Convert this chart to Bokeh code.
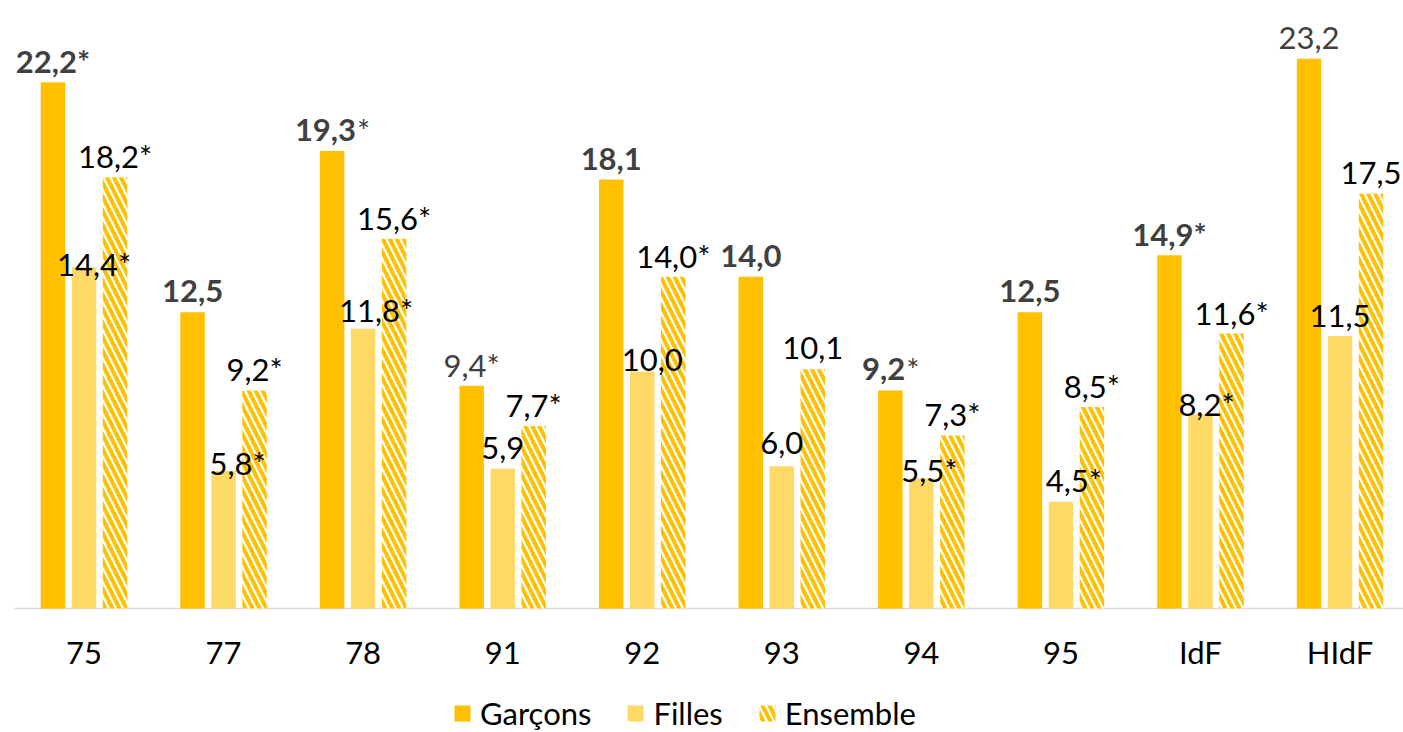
from bokeh.plotting import figure
from bokeh.models import Range1d, FixedTicker, ColumnDataSource, Legend, LegendItem
from bokeh.core.properties import value
from bokeh.embed import file_html
from bokeh.resources import INLINE

# ---------------- data ----------------
categories = ["75", "77", "78", "91", "92", "93", "94", "95", "IdF", "HIdF"]
garcons = [22.2, 12.5, 19.3, 9.4, 18.1, 14.0, 9.2, 12.5, 14.9, 23.2]
filles = [14.4, 5.8, 11.8, 5.9, 10.0, 6.0, 5.5, 4.5, 8.2, 11.5]
ensemble = [18.2, 9.2, 15.6, 7.7, 14.0, 10.1, 7.3, 8.5, 11.6, 17.5]
garcons_star = [True, False, True, True, False, False, True, False, True, False]
filles_star = [True, True, True, False, False, False, True, True, True, False]
ensemble_star = [True, True, True, True, True, False, True, True, True, False]
series_names = ["Garçons", "Filles", "Ensemble"]

# ---------------- styles ----------------
garcons_label_style = ["bold", "bold", "mixed", "normal", "bold", "bold", "mixed", "bold", "bold", "normal"]
filles_label_dx = [10, 14, 13, 0, 10, 0, 8, 13, 6, 0]
filles_label_gap = [3, 8, 19, 21, 12, 23, 8, 22, 10, 20]
LABEL_GAP = 21
FONT = "Lato"
FS = "31px"
C_G = "#FFC000"
C_F = "#FFD966"
GREY = "#404040"
PX_PER_CAT = 139.56
OFF = 31 / PX_PER_CAT
BAR_W = 24.5 / PX_PER_CAT
PX_PER_UNIT = 23.7
W, H = 1403, 732
FRAME_LEFT, FRAME_TOP, BASELINE = 0, 10, 608
FIRST_CENTER = 83.5


def fmt(v):
    return f"{v:.1f}".replace(".", ",")


def est_width(s):
    w = 0
    for ch in s:
        if ch.isdigit():
            w += 18
        elif ch == ",":
            w += 7.4
        else:
            w += 13.5
    return w


x_start = (FRAME_LEFT - FIRST_CENTER) / PX_PER_CAT
x_end = (W - FIRST_CENTER) / PX_PER_CAT
y_start = -(H - BASELINE) / PX_PER_UNIT
y_end = (BASELINE - FRAME_TOP) / PX_PER_UNIT
axis_start = (14 - FIRST_CENTER) / PX_PER_CAT

p = figure(width=W, height=H, output_backend="svg", toolbar_location=None,
           x_range=Range1d(x_start, x_end), y_range=Range1d(y_start, y_end),
           y_axis_location=None,
           min_border_left=FRAME_LEFT, min_border_right=0, min_border_top=FRAME_TOP, min_border_bottom=0)
p.background_fill_color = None
p.border_fill_color = None
p.outline_line_color = None
p.xgrid.visible = False
p.ygrid.visible = False

xs = list(range(len(categories)))
src = ColumnDataSource(dict(
    xg=[x - OFF for x in xs], xf=xs, xe=[x + OFF for x in xs],
    g=garcons, f=filles, e=ensemble))

# baseline of the category axis (y = 0), drawn as a thin filled band
p.hbar(y=[0], left=[axis_start], right=[x_end], height=1.6 / PX_PER_UNIT,
       fill_color="#D9D9D9", line_color=None)

rg = p.vbar(x="xg", top="g", bottom=0, width=BAR_W, source=src, fill_color=C_G, line_color=None)
rf = p.vbar(x="xf", top="f", bottom=0, width=BAR_W, source=src, fill_color=C_F, line_color=None)
re = p.vbar(x="xe", top="e", bottom=0, width=BAR_W, source=src, fill_color="white", line_color=None,
            hatch_pattern="left_diagonal_line", hatch_color=C_G, hatch_scale=14, hatch_weight=4)

# ---------------- labels ----------------
L = dict(x=[], y=[], text=[], style=[], align=[], dx=[], dy=[], color=[])


def add(x, y, t, st, al, dx, dy, c):
    L["x"].append(x); L["y"].append(y); L["text"].append(t); L["style"].append(st)
    L["align"].append(al); L["dx"].append(dx); L["dy"].append(dy); L["color"].append(c)


STAR_W = 13.5
for i, (v, star, st) in enumerate(zip(garcons, garcons_star, garcons_label_style)):
    x = i - OFF
    if st == "mixed":
        num = fmt(v)
        total = est_width(num) + STAR_W
        split = total / 2 - STAR_W
        add(x, v, num, "bold", "right", split, -LABEL_GAP, GREY)
        add(x, v, "*", "normal", "left", split + 1, -LABEL_GAP, GREY)
    else:
        add(x, v, fmt(v) + ("*" if star else ""), st, "center", 0, -LABEL_GAP, GREY)

for i, (v, star) in enumerate(zip(filles, filles_star)):
    add(i, v, fmt(v) + ("*" if star else ""), "normal", "center",
        filles_label_dx[i], -filles_label_gap[i], "black")

for i, (v, star) in enumerate(zip(ensemble, ensemble_star)):
    add(i + OFF, v, fmt(v) + ("*" if star else ""), "normal", "center", 0, -LABEL_GAP, "black")

lsrc = ColumnDataSource(L)
p.text(x="x", y="y", text="text", source=lsrc, text_font=value(FONT), text_font_size=FS,
       text_font_style="style", text_align="align", text_baseline="alphabetic",
       x_offset="dx", y_offset="dy", text_color="color")

# ---------------- axis (crossing at y = 0) ----------------
ax = p.xaxis[0]
ax.fixed_location = 0
ax.ticker = FixedTicker(ticks=xs)
ax.major_label_overrides = {i: c for i, c in enumerate(categories)}
ax.axis_line_color = None
ax.major_tick_line_color = None
ax.minor_tick_line_color = None
ax.major_tick_out = 0
ax.major_tick_in = 0
ax.major_label_standoff = 24
ax.major_label_text_font = FONT
ax.major_label_text_font_size = FS
ax.major_label_text_color = "black"

# ---------------- legend ----------------
legend = Legend(items=[LegendItem(label=series_names[0], renderers=[rg]),
                       LegendItem(label=series_names[1], renderers=[rf]),
                       LegendItem(label=series_names[2], renderers=[re])],
                location=(452, 0), orientation="horizontal", padding=0, margin=0,
                spacing=34, label_standoff=8, glyph_width=20, glyph_height=20,
                border_line_color=None, background_fill_alpha=0,
                label_text_font=FONT, label_text_font_size=FS, label_text_color="black")
p.add_layout(legend, "center")

open("out.html", "w").write(file_html(p, INLINE))
